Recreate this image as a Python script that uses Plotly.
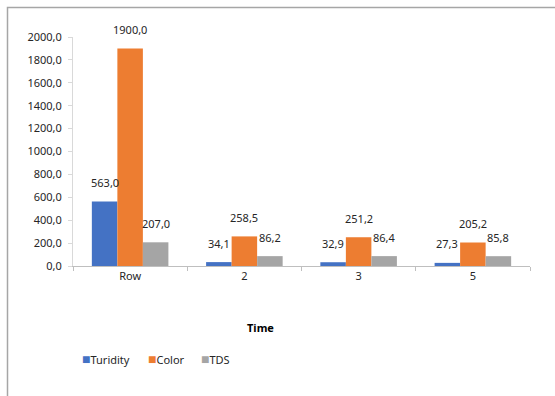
import plotly.graph_objects as go

# Sampling times and measured parameters
categories = ["Row", "2", "3", "5"]
turbidity = [563.0, 34.1, 32.9, 27.3]
color = [1900.0, 258.5, 251.2, 205.2]
tds = [207.0, 86.2, 86.4, 85.8]

series_names = ["Turidity", "Color", "TDS"]
series_values = [turbidity, color, tds]
series_colors = ["#4472C4", "#ED7D31", "#A5A5A5"]

FONT = "Noto Sans"
TEXT = "#262626"

W, H = 555, 396
M_L, M_R, M_T, M_B = 73, 25, 37, 130
BARGAP = 0.33

plot_w = W - M_L - M_R
plot_h = H - M_T - M_B
bar_px = plot_w / len(categories) * (1 - BARGAP) / len(series_names)

fig = go.Figure()
for name, vals, col in zip(series_names, series_values, series_colors):
    fig.add_trace(go.Bar(name=name, x=categories, y=vals, marker_color=col,
                         marker_line_width=0, showlegend=False))

# Value labels above each bar (category axis positions are indices)
annotations = []
for i, vals in enumerate(series_values):
    for j, v in enumerate(vals):
        annotations.append(dict(
            x=j, y=v, xref="x", yref="y", text=f"{v:.1f}".replace(".", ","),
            showarrow=False, xanchor="center", yanchor="middle",
            xshift=(i - 1) * bar_px, yshift=19,
            font=dict(family=FONT, size=11, color=TEXT)))

# Axis title
annotations.append(dict(
    x=(260 - M_L) / plot_w, y=-(327 - (H - M_B)) / plot_h, xref="paper", yref="paper",
    text="<b>Time</b>", showarrow=False, xanchor="center", yanchor="middle",
    font=dict(family=FONT, size=11, color="#000000")))

# Legend row
legend_x = [80, 146, 199]
for n, c, px in zip(series_names, series_colors, legend_x):
    annotations.append(dict(
        x=(px - M_L) / plot_w, y=-(358 - (H - M_B)) / plot_h, xref="paper", yref="paper",
        text=f'<span style="color:{c};font-size:14px">■</span>{n}', showarrow=False,
        xanchor="left", yanchor="middle",
        font=dict(family=FONT, size=11, color=TEXT)))

# Outer chart frame
shapes = [dict(
    type="rect", xref="paper", yref="paper",
    x0=-(M_L - 7.5) / plot_w, x1=(W + 20 - M_L) / plot_w,
    y0=-(H + 20 - (H - M_B)) / plot_h, y1=((H - M_B) - 7.5) / plot_h,
    line=dict(color="#A6A6A6", width=1.5), fillcolor="rgba(0,0,0,0)", layer="below")]

fig.update_layout(
    width=W, height=H,
    margin=dict(l=M_L, r=M_R, t=M_T, b=M_B),
    paper_bgcolor="white", plot_bgcolor="white",
    barmode="group", bargap=BARGAP, bargroupgap=0,
    separators=",.",
    font=dict(family=FONT, size=11, color=TEXT),
    annotations=annotations, shapes=shapes,
    xaxis=dict(type="category", showgrid=False, showline=True, linecolor="#BFBFBF",
               linewidth=1, ticks="outside", tickson="boundaries", ticklen=4,
               tickcolor="#BFBFBF", tickfont=dict(family=FONT, size=11, color=TEXT)),
    yaxis=dict(range=[0, 2000], dtick=200, tickformat=".1f", showgrid=False,
               showline=True, linecolor="#D9D9D9", linewidth=1,
               ticks="outside", ticklen=4, tickcolor="#D9D9D9", zeroline=False,
               ticklabelstandoff=4,
               tickfont=dict(family=FONT, size=11, color=TEXT)),
)

fig.write_html("out.html")
